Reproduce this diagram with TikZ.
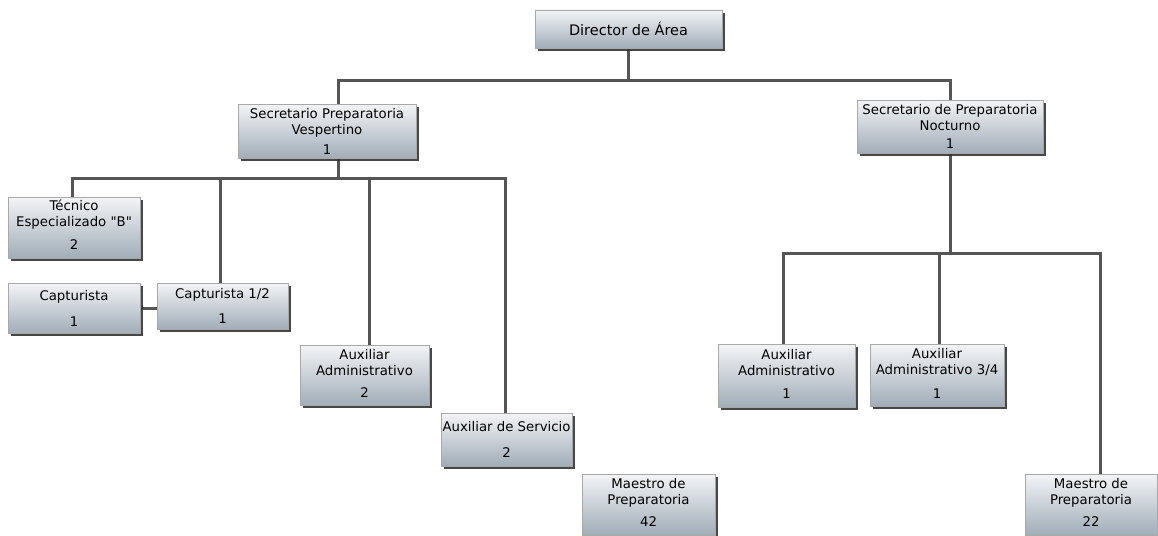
\documentclass[tikz,border=0pt]{standalone}
\usepackage{fontspec}
\setmainfont{DejaVu Sans}[Ligatures=TeXOff]
\usetikzlibrary{shadows,backgrounds}
\definecolor{boxtop}{HTML}{F3F4F6}
\definecolor{boxmid}{HTML}{D3D9DF}
\definecolor{boxbot}{HTML}{A1ADB8}
\definecolor{boxline}{HTML}{A8A8A8}
\definecolor{shade}{HTML}{333333}
\definecolor{wire}{HTML}{555555}
\tikzset{
  orgbox/.style={rectangle, draw=boxline, line width=0.8pt, inner sep=0pt,
    top color=boxtop, middle color=boxmid, bottom color=boxbot,
    drop shadow={shadow xshift=3pt, shadow yshift=-3pt, fill=shade, opacity=0.9}},
  lbl/.style={inner sep=0pt, align=center, text=black,
    font=\fontsize{13.3}{16}\selectfont},
  conn/.style={draw=wire, line width=3pt}
}
% box: name, left, top, right, bottom
\newcommand{\orgunit}[5]{%
  \node[orgbox, minimum width={#4-#2}, minimum height={#5-#3}]
    (#1) at ({(#2+#4)/2},{(#3+#5)/2}) {};}
\begin{document}
\begin{tikzpicture}[x=1pt,y=-1pt]
\useasboundingbox (0,0) rectangle (1158,535);

% boxes
\orgunit{dir}{535}{10}{722}{48}
\orgunit{secv}{238}{104}{416}{158}
\orgunit{secn}{857}{100}{1043}{153}
\orgunit{tec}{8}{197}{140}{258}
\orgunit{cap}{8}{283}{140}{333}
\orgunit{capm}{157}{283}{288}{329}
\orgunit{auxl}{300}{345}{429}{405}
\orgunit{auxs}{441}{413}{572}{466}
\orgunit{mvesp}{582}{474}{715}{535}
\orgunit{auxr}{718}{344}{855}{407}
\orgunit{auxt}{870}{344}{1004}{406}
\orgunit{mnoc}{1025}{474}{1157}{535}

% texts
\node[lbl, font=\fontsize{14.5}{17}\selectfont] (dir-t) at (628.5,29) {Director de Área};
\node[lbl] (secv-t) at (327,123) {Secretario Preparatoria\\Vespertino};
\node[lbl] (secv-n) at (327,150) {1};
\node[lbl] (secn-t) at (950,118) {Secretario de Preparatoria\\Nocturno};
\node[lbl] (secn-n) at (950,144) {1};
\node[lbl] (tec-t) at (74,215) {Técnico\\Especializado "B"};
\node[lbl] (tec-n) at (74,245) {2};
\node[lbl] (cap-t) at (74,297) {Capturista};
\node[lbl] (cap-n) at (74,322) {1};
\node[lbl] (capm-t) at (222.5,295) {Capturista 1/2};
\node[lbl] (capm-n) at (222.5,319) {1};
\node[lbl] (auxl-t) at (364.5,363) {Auxiliar\\Administrativo};
\node[lbl] (auxl-n) at (364.5,393) {2};
\node[lbl] (auxs-t) at (506.5,427) {Auxiliar de Servicio};
\node[lbl] (auxs-n) at (506.5,453) {2};
\node[lbl] (mvesp-t) at (648.5,493) {Maestro de\\Preparatoria};
\node[lbl] (mvesp-n) at (648.5,522) {42};
\node[lbl] (auxr-t) at (786.5,362.5) {Auxiliar\\Administrativo};
\node[lbl] (auxr-n) at (786.5,394) {1};
\node[lbl] (auxt-t) at (937,362.5) {Auxiliar\\Administrativo 3/4};
\node[lbl] (auxt-n) at (937,394) {1};
\node[lbl] (mnoc-t) at (1091,493) {Maestro de\\Preparatoria};
\node[lbl] (mnoc-n) at (1091,522) {22};

% connectors
\begin{scope}[on background layer]
  % director level
  \path (dir.south) ++(0,32) coordinate (dbus);
  \coordinate (secvtop) at ([xshift=11pt]secv.north);
  \draw[conn] (dir.south) -- (dbus);
  \draw[conn] (secvtop) |- (dbus) -| (secn.north);
  % vespertino branch
  \coordinate (secvbot) at ([xshift=11pt]secv.south);
  \path (secvbot) ++(0,20) coordinate (vbus);
  \coordinate (tectop) at ([xshift=-2pt]tec.north);
  \coordinate (capmtop) at ([xshift=-2.5pt]capm.north);
  \coordinate (auxltop) at ([xshift=4.5pt]auxl.north);
  \coordinate (auxstop) at ([xshift=-1.5pt]auxs.north);
  \draw[conn] (secvbot) -- (vbus);
  \draw[conn] (tectop) |- (auxstop |- vbus) -- (auxstop);
  \draw[conn] (capmtop |- vbus) -- (capmtop);
  \draw[conn] (auxltop |- vbus) -- (auxltop);
  \draw[conn] (cap.east) -- (capm.west |- cap.east);
  % nocturno branch
  \path (secn.south) ++(0,100) coordinate (nbus);
  \coordinate (auxrtop) at ([xshift=-3pt]auxr.north);
  \coordinate (auxttop) at ([xshift=2pt]auxt.north);
  \coordinate (mnoctop) at ([xshift=9pt]mnoc.north);
  \draw[conn] (secn.south) -- (nbus);
  \draw[conn] (auxrtop) |- (mnoctop |- nbus) -- (mnoctop);
  \draw[conn] (auxttop |- nbus) -- (auxttop);
\end{scope}
\end{tikzpicture}
\end{document}
